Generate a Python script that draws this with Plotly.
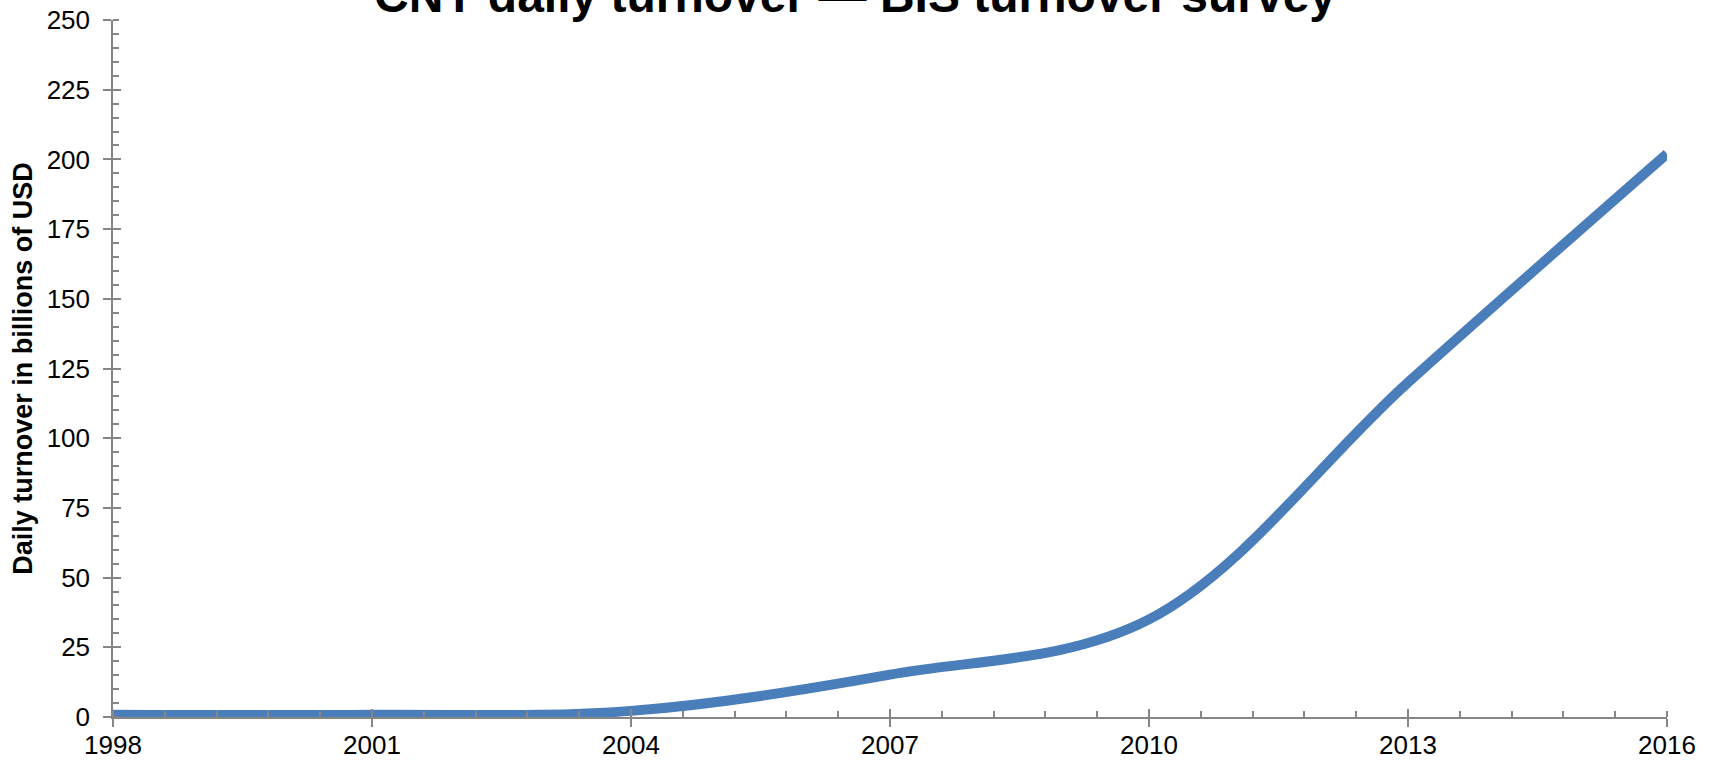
import plotly.graph_objects as go

years = [1998, 2001, 2004, 2007, 2010, 2013, 2016]
turnover = [0.8, 0.8, 2.2, 15.2, 35.0, 120.0, 202.0]
x_ticks = [1998, 2001, 2004, 2007, 2010, 2013, 2016]
x_tick_labels = ["1998", "2001", "2004", "2007", "2010", "2013", "2016"]
y_ticks = list(range(0, 251, 25))
chart_title = "CNY daily turnover — BIS turnover survey"
y_title = "Daily turnover in billions of USD"

FONT = "Liberation Sans, Arial, sans-serif"
GREY = "#868686"

fig = go.Figure()
fig.add_trace(go.Scatter(
    x=years, y=turnover, mode="lines",
    line=dict(color="#4A7EBB", width=10, shape="spline", smoothing=1.0),
    showlegend=False, hoverinfo="x+y",
))

fig.update_layout(
    width=1714, height=761, autosize=False,
    margin=dict(l=113, r=47, t=20, b=44),
    paper_bgcolor="white", plot_bgcolor="white",
    xaxis=dict(
        range=[1998, 2016], tickvals=x_ticks, ticktext=x_tick_labels,
        showline=True, linecolor=GREY, linewidth=1.5, automargin=False,
        ticks="outside", ticklen=8, tickwidth=1.5, tickcolor=GREY,
        tickfont=dict(family=FONT, size=26, color="black"),
        ticklabelstandoff=-4,
        showgrid=False, zeroline=False,
        minor=dict(ticks="inside", tick0=1998, dtick=0.6, ticklen=6,
                   tickwidth=1.5, tickcolor=GREY, showgrid=False),
    ),
    xaxis2=dict(
        range=[1998, 2016], tickvals=x_ticks, overlaying="x", side="bottom",
        anchor="y", showline=False, showticklabels=False, automargin=False,
        ticks="inside", ticklen=8, tickwidth=1.5, tickcolor=GREY,
        showgrid=False, zeroline=False,
    ),
    yaxis=dict(
        range=[0, 250], tickvals=y_ticks,
        showline=True, linecolor=GREY, linewidth=1.5, automargin=False,
        ticks="outside", ticklen=8, tickwidth=1.5, tickcolor=GREY,
        tickfont=dict(family=FONT, size=26, color="black"),
        ticklabelstandoff=8,
        showgrid=False, zeroline=False,
        minor=dict(ticks="inside", dtick=5, ticklen=6,
                   tickwidth=1.5, tickcolor=GREY, showgrid=False),
        title=dict(text="<b>" + y_title + "</b>",
                   font=dict(family=FONT, size=27, color="black"),
                   standoff=6),
    ),
    yaxis2=dict(
        range=[0, 250], tickvals=y_ticks, overlaying="y", side="left",
        anchor="x", showline=False, showticklabels=False, automargin=False,
        ticks="inside", ticklen=8, tickwidth=1.5, tickcolor=GREY,
        showgrid=False, zeroline=False,
    ),
    annotations=[dict(
        text="<b>" + chart_title + "</b>",
        font=dict(family=FONT, size=48, color="black"),
        xref="paper", yref="paper", x=0.4775, y=1.035,
        xanchor="center", yanchor="middle", showarrow=False,
    )],
)

# invisible helper trace so the overlaid tick axes are drawn
fig.add_trace(go.Scatter(x=[years[0]], y=[turnover[0]], xaxis="x2", yaxis="y2",
                         mode="markers", marker=dict(opacity=0),
                         showlegend=False, hoverinfo="skip"))

fig.write_html("out.html")
